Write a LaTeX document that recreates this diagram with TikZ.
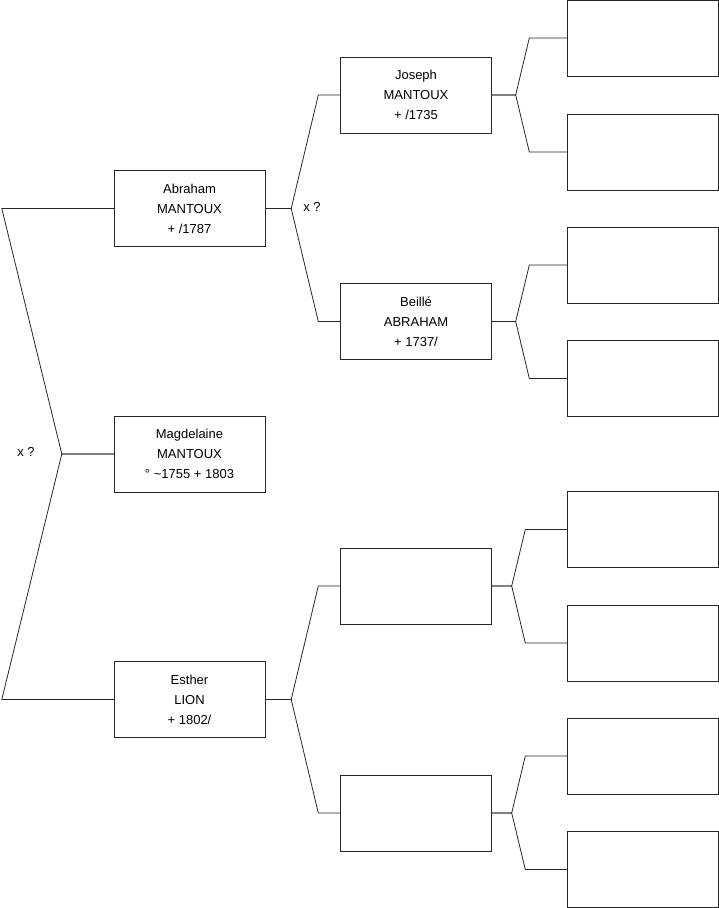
\documentclass[tikz,border=0pt]{standalone}
\usepackage{fontspec}
\setmainfont{Liberation Sans}
\usepackage{tikz}
\usetikzlibrary{positioning}

\begin{document}
\begin{tikzpicture}[x=1pt, y=-1pt,
    person/.style={draw=black!85, rectangle, minimum width=151pt, minimum height=76pt, inner sep=0pt, align=center, font=\fontsize{13}{20}\selectfont},
    link/.style={draw=black!85, line width=0.8pt},
    mark label/.style={font=\fontsize{13}{16}\selectfont}]
    \useasboundingbox (0,0) rectangle (719,908);

    % Root
    \node[person] (mag) at (189.5,454) {Magdelaine\\MANTOUX\\° \textasciitilde1755 + 1803};

    % Parents
    \node[person] (abr) at (189.5,208.5) {Abraham\\MANTOUX\\+ /1787};
    \node[person] (est) at (189.5,699.5) {Esther\\LION\\+ 1802/};

    % Grandparents
    \node[person] (jos) at (416,95) {Joseph\\MANTOUX\\+ /1735};
    \node[person] (bei) at (416,321.5) {Beillé\\ABRAHAM\\+ 1737/};
    \node[person] (gpc) at (416,586) {};
    \node[person] (gpd) at (416,813) {};

    % Great-grandparents
    \node[person] (ga) at (643,38) {};
    \node[person] (gb) at (643,152) {};
    \node[person] (gc) at (643,265) {};
    \node[person] (gd) at (643,378.5) {};
    \node[person] (ge) at (643,529.5) {};
    \node[person] (gf) at (643,643) {};
    \node[person] (gg) at (643,756) {};
    \node[person] (gh) at (643,869.5) {};

    % Marriage marks
    \node[mark label] (xroot) at (26,452) {x ?};
    \node[mark label] (xabr) at (312,207) {x ?};

    % Links
    \draw[link] (mag.west) -- ++(-52,0) -- ([xshift=-112pt]abr.west) -- (abr.west);
    \draw[link] (mag.west) -- ++(-52,0) -- ([xshift=-112pt]est.west) -- (est.west);
    \draw[link] (abr.east) -- ++(26,0) -- ([xshift=-22pt]jos.west) -- (jos.west);
    \draw[link] (abr.east) -- ++(26,0) -- ([xshift=-22pt]bei.west) -- (bei.west);
    \draw[link] (est.east) -- ++(26,0) -- ([xshift=-22pt]gpc.west) -- (gpc.west);
    \draw[link] (est.east) -- ++(26,0) -- ([xshift=-22pt]gpd.west) -- (gpd.west);
    \draw[link] (jos.east) -- ++(24,0) -- ([xshift=-38pt]ga.west) -- (ga.west);
    \draw[link] (jos.east) -- ++(24,0) -- ([xshift=-38pt]gb.west) -- (gb.west);
    \draw[link] (bei.east) -- ++(24,0) -- ([xshift=-38pt]gc.west) -- (gc.west);
    \draw[link] (bei.east) -- ++(24,0) -- ([xshift=-38pt]gd.west) -- (gd.west);
    \draw[link] (gpc.east) -- ++(20,0) -- ([xshift=-42pt]ge.west) -- (ge.west);
    \draw[link] (gpc.east) -- ++(20,0) -- ([xshift=-42pt]gf.west) -- (gf.west);
    \draw[link] (gpd.east) -- ++(20,0) -- ([xshift=-42pt]gg.west) -- (gg.west);
    \draw[link] (gpd.east) -- ++(20,0) -- ([xshift=-42pt]gh.west) -- (gh.west);
\end{tikzpicture}
\end{document}
